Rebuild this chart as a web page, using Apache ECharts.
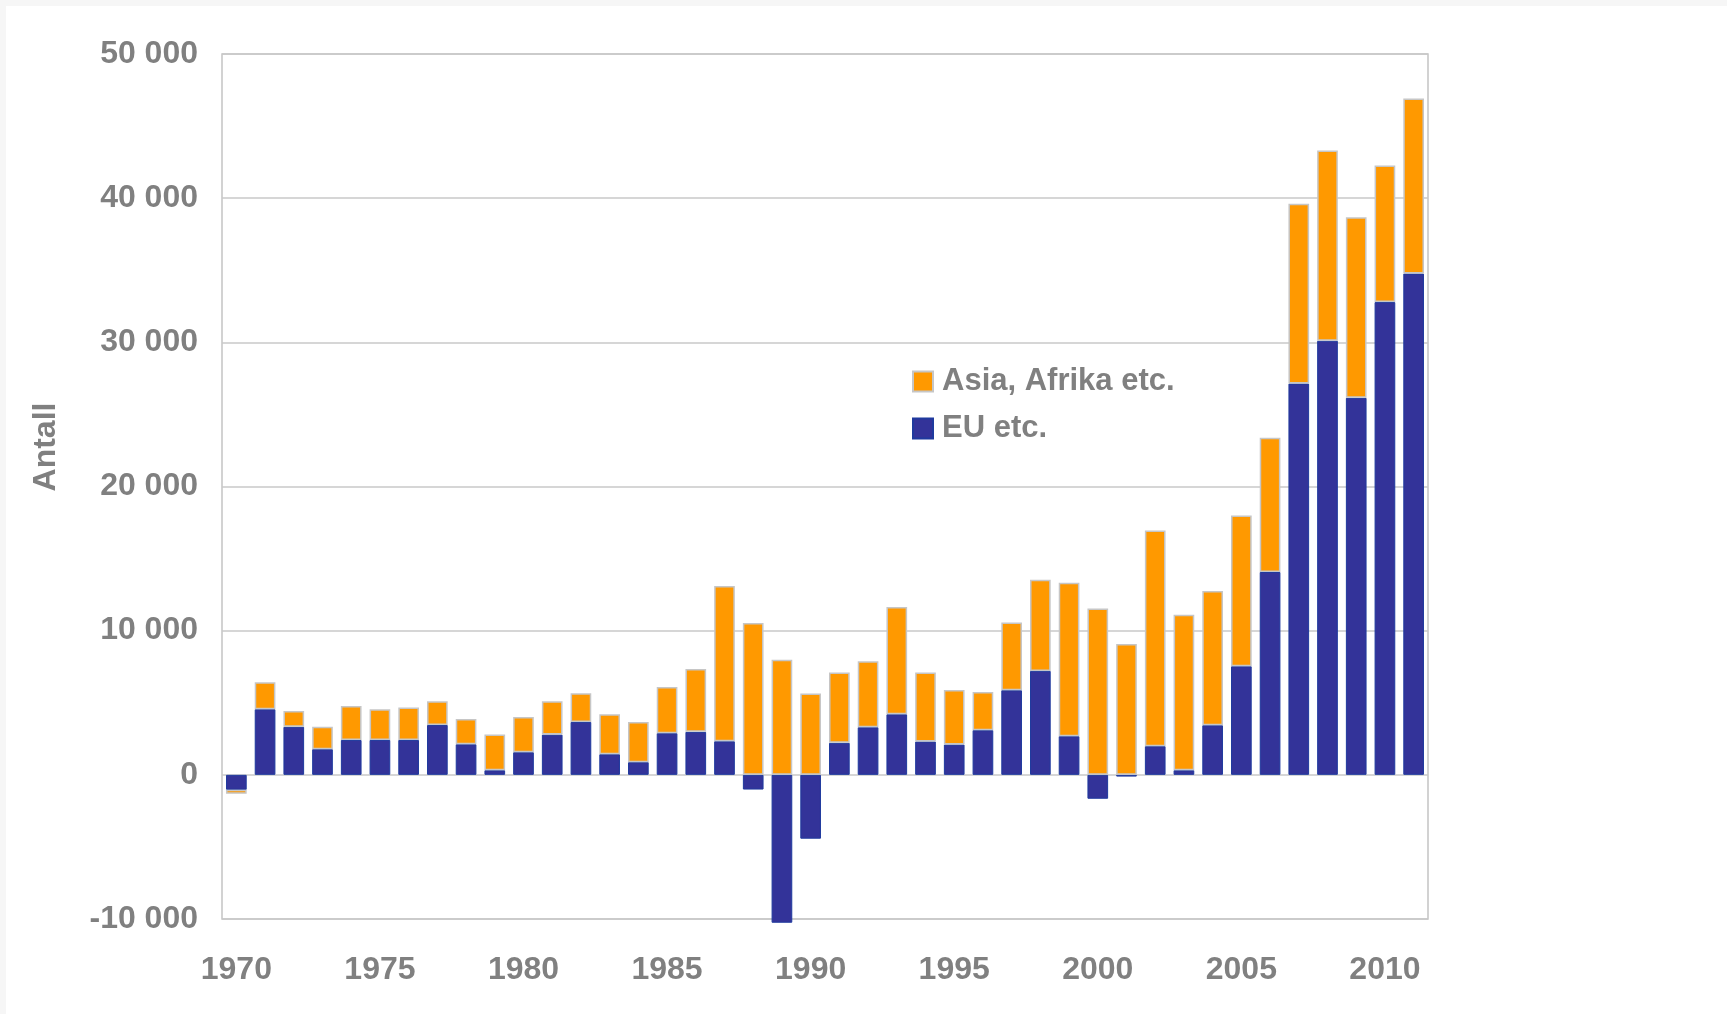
<!DOCTYPE html>
<html>
<head>
<meta charset="utf-8">
<script src="https://cdn.jsdelivr.net/npm/echarts@6/dist/echarts.min.js"></script>
<style>
  html, body { margin: 0; padding: 0; width: 1727px; height: 1014px; background: #f6f6f6; overflow: hidden; }
  #bg { position: absolute; left: 6px; top: 6px; right: 0; bottom: 0; background: #ffffff; }
  #chart { position: absolute; left: 0; top: 0; width: 1727px; height: 1014px; }
</style>
</head>
<body>
<div id="bg"></div>
<div id="chart"></div>
<script>
const years = ["1970","1971","1972","1973","1974","1975","1976","1977","1978","1979",
  "1980","1981","1982","1983","1984","1985","1986","1987","1988","1989",
  "1990","1991","1992","1993","1994","1995","1996","1997","1998","1999",
  "2000","2001","2002","2003","2004","2005","2006","2007","2008","2009",
  "2010","2011"];

const euEtc = [-1040, 4550, 3330, 1780, 2420, 2420, 2420, 3460, 2120, 320,
  1570, 2790, 3670, 1430, 880, 2890, 2980, 2330, -1020, -10260,
  -4430, 2220, 3300, 4200, 2310, 2100, 3100, 5870, 7210, 2680,
  -1660, -120, 1990, 320, 3440, 7530, 14070, 27140, 30110, 26150,
  32790, 34770];

const asiaAfrika = [-280, 1870, 1100, 1550, 2360, 2130, 2250, 1640, 1760, 2470,
  2450, 2310, 1990, 2770, 2790, 3210, 4360, 10770, 10530, 7990,
  5640, 4870, 4580, 7440, 4780, 3790, 2650, 4690, 6330, 10650,
  11530, 9080, 14960, 10790, 9310, 10460, 9310, 12470, 13190, 12520,
  9470, 12150];

const seriesNames = ["EU etc.", "Asia, Afrika etc."];
const legendOrder = ["Asia, Afrika etc.", "EU etc."];
const yMin = -10000, yMax = 50000, yStep = 10000;

const FONT = "'Liberation Sans', Arial, sans-serif";
const GREY = '#808080';
const FS = 32;

const chart = echarts.init(document.getElementById('chart'), null, { renderer: 'canvas' });
chart.setOption({
  animation: false,
  backgroundColor: 'transparent',
  grid: { left: 222, right: 299, top: 54, bottom: 95, show: true, borderColor: '#c4c4c4', borderWidth: 1.5, backgroundColor: 'transparent' },
  legend: {
    data: legendOrder,
    orient: 'vertical',
    left: 907, top: 361,
    itemWidth: 20, itemHeight: 20,
    itemGap: 16,
    icon: 'rect',
    textStyle: { fontFamily: FONT, fontWeight: 'bold', fontSize: 31, color: GREY, padding: [0, 0, 0, 4] }
  },
  graphic: [{
    type: 'text',
    x: 46, y: 447,
    rotation: Math.PI / 2,
    style: { text: 'Antall', font: "bold 32px 'Liberation Sans', Arial, sans-serif", fill: GREY, textAlign: 'center', textVerticalAlign: 'middle' }
  }],
  xAxis: {
    type: 'category',
    data: years,
    position: 'bottom',
    axisLine: { onZero: false, show: false },
    axisTick: { show: false },
    axisLabel: { interval: 4, margin: 35, fontFamily: FONT, fontWeight: 'bold', fontSize: FS, color: GREY }
  },
  yAxis: {
    type: 'value',
    min: yMin, max: yMax, interval: yStep,
    axisLine: { show: false },
    axisTick: { show: false },
    splitLine: { show: true, lineStyle: { color: '#c8c8c8', width: 1.5 } },
    axisLabel: {
      margin: 24, fontFamily: FONT, fontWeight: 'bold', fontSize: FS, color: GREY,
      formatter: v => {
        const s = Math.abs(v).toString().replace(/\B(?=(\d{3})+(?!\d))/g, ' ');
        return (v < 0 ? '-' : '') + s;
      }
    }
  },
  series: [
    {
      name: seriesNames[0], type: 'bar', stack: 'total', data: euEtc, barWidth: '72%', clip: false,
      itemStyle: { color: '#333399', borderColor: '#1f3a9e', borderWidth: 1 }
    },
    {
      name: seriesNames[1], type: 'bar', stack: 'total', data: asiaAfrika, barWidth: '72%', clip: false,
      itemStyle: { color: '#ff9900', borderColor: '#c6c6c6', borderWidth: 1.5 }
    }
  ]
});
</script>
</body>
</html>
